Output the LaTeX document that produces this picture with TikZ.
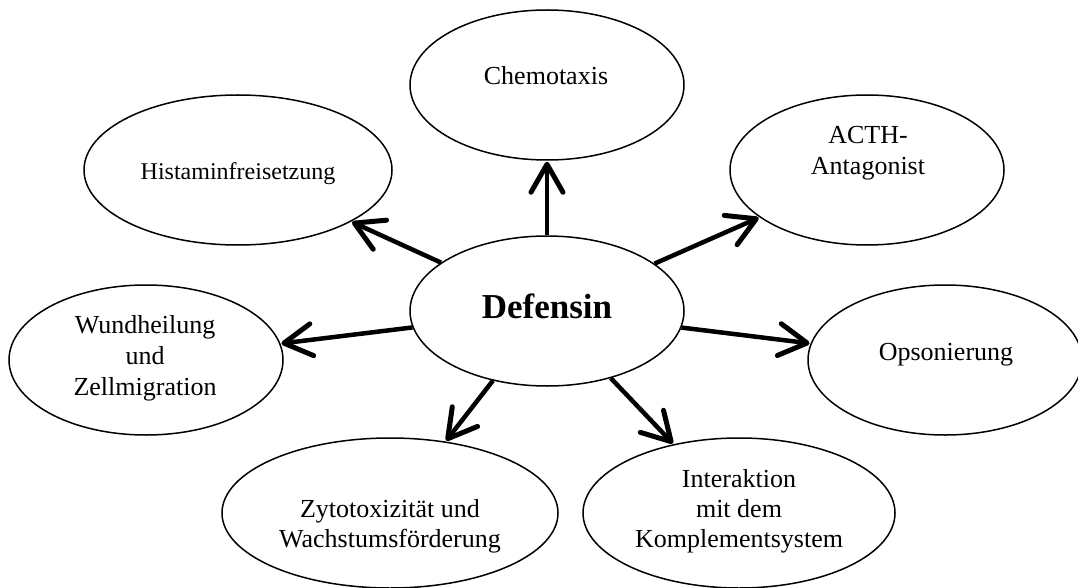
\documentclass[tikz,border=0pt]{standalone}
\usepackage{fontspec}
\setmainfont{Liberation Serif}
\usetikzlibrary{shapes.geometric,arrows.meta}
\tikzset{
  bubble/.style={draw, ellipse, line width=1.5pt, inner sep=0pt, minimum height=150pt},
  lbl/.style={anchor=base, inner sep=0pt, font=\fontsize{26}{31}\selectfont},
  conn/.style={line width=4.5pt, -{Straight Barb[length=28pt,width=32pt,line width=5pt,round]}, shorten >=1pt}
}
\begin{document}
\begin{tikzpicture}[x=1pt,y=-1pt]
\useasboundingbox (0,0) rectangle (1078,588);
\node[bubble, minimum width=274pt] (def) at (547,311) {};
\node[bubble, minimum width=274pt] (chem) at (547,85) {};
\node[bubble, minimum width=308pt] (hist) at (238,170) {};
\node[bubble, minimum width=274pt] (acth) at (867,170) {};
\node[bubble, minimum width=274pt] (wund) at (146,360) {};
\node[bubble, minimum width=274pt] (ops) at (945,360) {};
\node[bubble, minimum width=336pt] (zyto) at (390,513) {};
\node[bubble, minimum width=312pt] (inter) at (739,513) {};

\node[lbl, font=\fontsize{35}{40}\selectfont\bfseries] (tdef) at (547,318) {Defensin};
\node[lbl] (tchem) at (546,85) {Chemotaxis};
\node[lbl, font=\fontsize{24}{29}\selectfont] (thist) at (238,180) {Histaminfreisetzung};
\node[lbl] (tacth1) at (868,144) {ACTH-};
\node[lbl] (tacth2) at (868,175) {Antagonist};
\node[lbl] (tops) at (946,360) {Opsonierung};
\node[lbl] (twund1) at (145,333) {Wundheilung};
\node[lbl] (twund2) at (145,364) {und};
\node[lbl] (twund3) at (145,395) {Zellmigration};
\node[lbl] (tzyto1) at (390,517) {Zytotoxizität und};
\node[lbl] (tzyto2) at (390,547) {Wachstumsförderung};
\node[lbl] (tint1) at (739,487) {Interaktion};
\node[lbl] (tint2) at (739,517) {mit dem};
\node[lbl] (tint3) at (739,547) {Komplementsystem};

\draw[conn] (def) -- (chem);
\draw[conn] (def) -- (hist);
\draw[conn] (def) -- (acth);
\draw[conn] (def) -- (wund);
\draw[conn] (def) -- (ops);
\draw[conn] (def) -- (zyto);
\draw[conn] (def) -- (inter);
\end{tikzpicture}
\end{document}
